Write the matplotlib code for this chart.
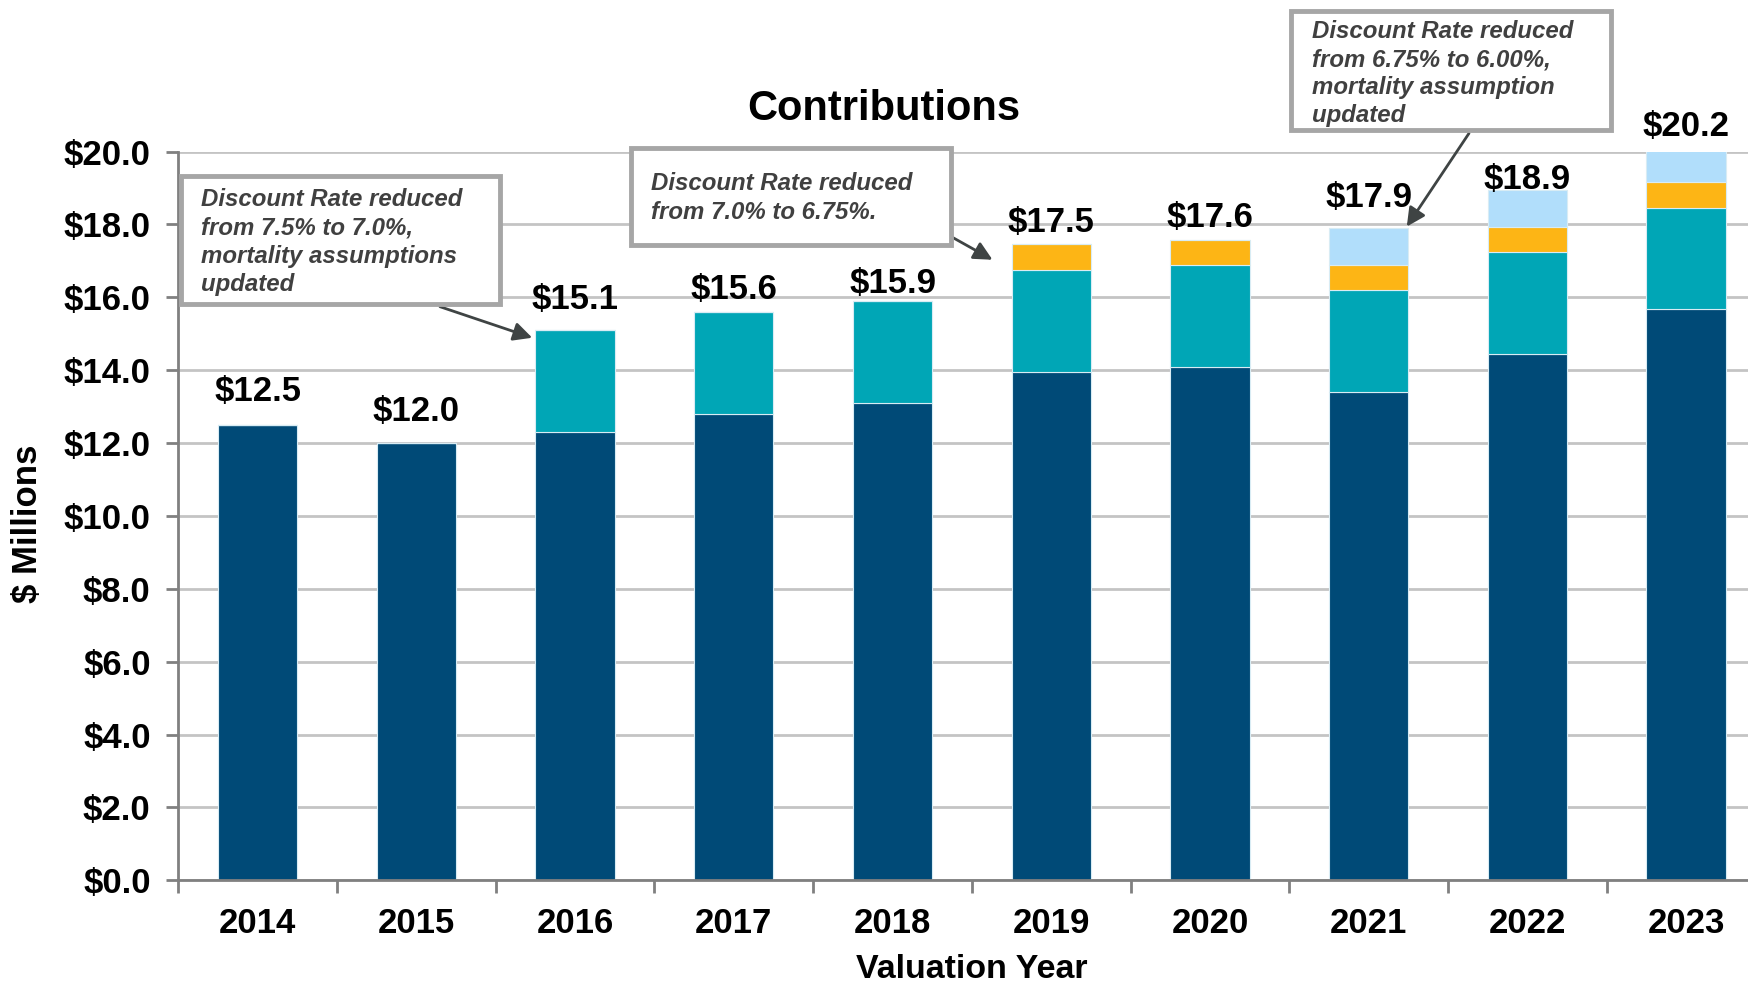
import matplotlib
matplotlib.use("Agg")
import matplotlib.pyplot as plt
from matplotlib.patches import Rectangle
import numpy as np

years = ["2014", "2015", "2016", "2017", "2018", "2019", "2020", "2021", "2022", "2023"]
base = [12.5, 12.0, 12.3, 12.8, 13.1, 13.96, 14.08, 13.39, 14.45, 15.67]
seg_teal = [0.0, 0.0, 2.8, 2.8, 2.8, 2.8, 2.8, 2.8, 2.78, 2.79]
seg_yellow = [0.0, 0.0, 0.0, 0.0, 0.0, 0.7, 0.7, 0.7, 0.7, 0.71]
seg_light = [0.0, 0.0, 0.0, 0.0, 0.0, 0.0, 0.0, 1.01, 1.02, 1.03]
totals = [12.5, 12.0, 15.1, 15.6, 15.9, 17.5, 17.6, 17.9, 18.9, 20.2]
yticks = [0, 2, 4, 6, 8, 10, 12, 14, 16, 18, 20]

notes = [
    "Discount Rate reduced\nfrom 7.5% to 7.0%,\nmortality assumptions\nupdated",
    "Discount Rate reduced\nfrom 7.0% to 6.75%.",
    "Discount Rate reduced\nfrom 6.75% to 6.00%,\nmortality assumption\nupdated",
]

# per-label vertical nudge of the total labels (points), styling only
label_nudge = [2.4, 0.8, 0.0, -5.6, -9.6, -7.2, -6.4, 0.0, -12.8, -8.8]

plt.rcParams['font.family'] = ['Liberation Sans', 'DejaVu Sans']

W, H = 1748, 984
fig = plt.figure(figsize=(W / 100, H / 100), dpi=100)
ax = fig.add_axes([0.102, 0.1053, 0.908, 0.7407])

c_dark, c_teal, c_yel, c_light = "#004A77", "#00A6B6", "#FDB515", "#B1DEFB"
x = np.arange(len(years))
bw = 0.5
edge = dict(edgecolor="#D8ECF4", linewidth=0.8)
ax.bar(x, base, bw, color=c_dark, zorder=3, **edge)
b1 = np.array(base)
ax.bar(x, seg_teal, bw, bottom=b1, color=c_teal, zorder=3, **edge)
b2 = b1 + np.array(seg_teal)
ax.bar(x, seg_yellow, bw, bottom=b2, color=c_yel, zorder=3, **edge)
b3 = b2 + np.array(seg_yellow)
ax.bar(x, seg_light, bw, bottom=b3, color=c_light, zorder=3, **edge)

for xi, t, nd in zip(x, totals, label_nudge):
    ax.annotate(f"${t:.1f}", (xi, t), xytext=(0, 15 + nd), textcoords="offset points",
                ha="center", va="baseline", fontsize=25, fontweight="bold",
                color="black", annotation_clip=False)

ax.set_xlim(-0.5, len(years) - 0.5)
ax.set_ylim(0, 20)
ax.set_yticks(yticks)
ax.set_yticklabels([f"${v:.1f}" for v in yticks], fontsize=25, fontweight="bold")
ax.set_xticks(x)
ax.set_xticklabels(years, fontsize=25, fontweight="bold")
ax.set_xticks(np.arange(-0.5, len(years), 1.0), minor=True)
ax.tick_params(axis="x", which="major", length=0, pad=19)
ax.tick_params(axis="x", which="minor", length=9, width=2, color="#808080", direction="out")
ax.tick_params(axis="y", which="major", length=9, width=2, color="#808080", direction="out", pad=11)
ax.grid(axis="y", color="#C4C4C4", linewidth=2, zorder=0)
ax.set_axisbelow(True)
for s in ["top", "right"]:
    ax.spines[s].set_visible(False)
for s in ["left", "bottom"]:
    ax.spines[s].set_color("#808080")
    ax.spines[s].set_linewidth(2)
    ax.spines[s].set_zorder(4)

def fx(px):
    return px / W

def fy(py):
    return 1 - py / H

fig.text(fx(884), fy(109), "Contributions", ha="center", va="center",
         fontsize=30, fontweight="bold")
fig.text(fx(27), fy(524), "$ Millions", ha="center", va="center", rotation=90,
         fontsize=25, fontweight="bold")
fig.text(fx(972), fy(969), "Valuation Year", ha="center", va="center",
         fontsize=24.5, fontweight="bold")

# annotation boxes (figure pixel geometry)
boxes = [(180.6, 176.1, 500.5, 304.3), (631, 148.3, 951, 245.3), (1291, 11.1, 1611, 130.4)]
text_pos = [(200.7, 188.5), (651, 172.5), (1312, 20)]
for (x0, y0, x1, y1), (tx, ty), note in zip(boxes, text_pos, notes):
    fig.patches.append(Rectangle((fx(x0), fy(y1)), fx(x1) - fx(x0), fy(y0) - fy(y1),
                                 transform=fig.transFigure, facecolor="white",
                                 edgecolor="#A6A6A6", linewidth=3.5, zorder=5))
    fig.text(fx(tx), fy(ty), note, ha="left", va="top", fontsize=17.3,
             fontweight="bold", fontstyle="italic", color="#404040",
             linespacing=1.28, zorder=6)

arrows = [((440, 306.7), (1.73, 14.89)), ((950, 236), (4.63, 17.03)), ((1469, 133.3), (7.24, 17.94))]
for (tx, ty), (dx, dy) in arrows:
    ax.annotate("", xy=(dx, dy), xycoords="data", xytext=(fx(tx), fy(ty)),
                textcoords="figure fraction",
                arrowprops=dict(arrowstyle="-|>", color="#3F4444", lw=2,
                                mutation_scale=28, shrinkA=0, shrinkB=0),
                annotation_clip=False, zorder=7)

fig.savefig("out.png", dpi=100)
